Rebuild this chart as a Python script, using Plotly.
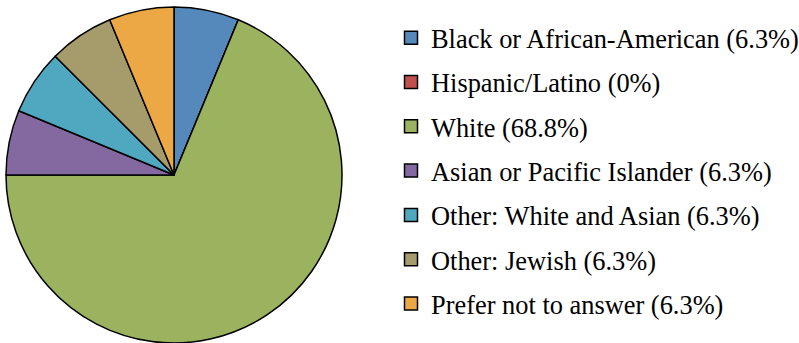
import plotly.graph_objects as go

categories = ["Black or African-American", "Hispanic/Latino", "White",
              "Asian or Pacific Islander", "Other: White and Asian",
              "Other: Jewish", "Prefer not to answer"]
percent_labels = ["6.3%", "0%", "68.8%", "6.3%", "6.3%", "6.3%", "6.3%"]
counts = [1, 0, 11, 1, 1, 1, 1]
colors = ["#5588BB", "#C0504D", "#9BB25E", "#8469A0", "#4FA8C0", "#A69B6A", "#EBA845"]

labels = [f"{c} ({p})" for c, p in zip(categories, percent_labels)]

W, H = 799, 343
FONT = "'Liberation Serif', 'Times New Roman', Times, serif"

fig = go.Figure()
fig.add_trace(go.Pie(
    labels=labels, values=counts, sort=False, direction="clockwise", rotation=0,
    textinfo="none", hoverinfo="label+value",
    marker=dict(colors=colors, line=dict(color="#000000", width=1.5)),
    domain=dict(x=[6/W, 342/W], y=[0, 336/H]),
    showlegend=False,
))
# legend entries (one per category, so the row spacing can be set)
for lab, col in zip(labels, colors):
    fig.add_trace(go.Scatter(
        x=[None], y=[None], mode="markers", name=lab, legendgroup=lab,
        marker=dict(symbol="square", size=13, color=col,
                    line=dict(color="#000000", width=1.5)),
        hoverinfo="skip",
    ))

fig.update_layout(
    width=W, height=H,
    margin=dict(l=0, r=0, t=0, b=0, autoexpand=False),
    paper_bgcolor="white", plot_bgcolor="white",
    font=dict(family=FONT, color="black"),
    xaxis=dict(visible=False), yaxis=dict(visible=False),
    legend=dict(x=391/W, xanchor="left", y=1-14/H, yanchor="top",
                font=dict(family=FONT, size=26.4, color="black"),
                tracegroupgap=7, itemsizing="trace",
                bgcolor="rgba(0,0,0,0)"),
)
fig.write_html("out.html", config={"displayModeBar": False},
               post_script="document.body.style.margin='0';document.body.style.overflow='hidden';")
